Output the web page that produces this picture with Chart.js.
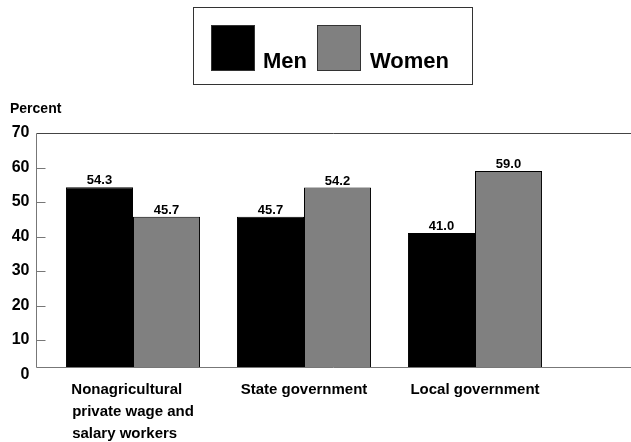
<!DOCTYPE html>
<html>
<head>
<meta charset="utf-8">
<script src="https://cdn.jsdelivr.net/npm/chart.js@4.4.1/dist/chart.umd.min.js"></script>
<style>
  html, body { margin: 0; padding: 0; background: #fff; }
  #wrap { width: 631px; height: 442px; }
</style>
</head>
<body>
<div id="wrap"><canvas id="unionChart"></canvas></div>
<script>
// Data
const categories = [
    ['Nonagricultural   ', 'private wage and', 'salary workers    '],
    'State government',
    'Local government'
];
const seriesNames = ['Men', 'Women'];
const menValues = [54.3, 45.7, 41.0];
const womenValues = [45.7, 54.2, 59.0];
const yTickValues = [0, 10, 20, 30, 40, 50, 60, 70];

const seriesColors = ['#000000', '#808080'];

Chart.defaults.font.family = "'Liberation Sans', Arial, sans-serif";
Chart.defaults.color = '#000';

// Frame, tick marks, "Percent" caption and the boxed legend
const framePlugin = {
    id: 'frameAndLegend',
    afterDraw(chart) {
        const ctx = chart.ctx;
        const area = chart.chartArea;
        const yScale = chart.scales.y;
        const left = 36.5;
        ctx.save();
        ctx.lineWidth = 1;

        // top line
        ctx.strokeStyle = '#444';
        ctx.beginPath();
        ctx.moveTo(left, Math.round(area.top) + 0.5);
        ctx.lineTo(chart.width, Math.round(area.top) + 0.5);
        ctx.stroke();

        // left axis, bottom axis and tick marks
        ctx.strokeStyle = '#777';
        ctx.beginPath();
        ctx.moveTo(left, Math.round(area.top) + 0.5);
        ctx.lineTo(left, Math.round(area.bottom) + 0.5);
        ctx.moveTo(left, Math.round(area.bottom) + 0.5);
        ctx.lineTo(chart.width, Math.round(area.bottom) + 0.5);
        yTickValues.forEach(v => {
            if (v <= 0 || v >= 70) return;
            const y = Math.round(yScale.getPixelForValue(v)) + 0.5;
            ctx.moveTo(left, y);
            ctx.lineTo(left + 9, y);
        });
        ctx.stroke();

        // axis caption
        ctx.fillStyle = '#000';
        ctx.font = "bold 14px 'Liberation Sans', Arial, sans-serif";
        ctx.textAlign = 'left';
        ctx.textBaseline = 'middle';
        ctx.fillText('Percent', 10, 109);

        // legend box
        ctx.strokeStyle = '#333';
        ctx.strokeRect(193.5, 7.5, 279, 77);
        const swatchX = [211, 317];
        const textX = [263, 370];
        ctx.font = "bold 22px 'Liberation Sans', Arial, sans-serif";
        ctx.textBaseline = 'alphabetic';
        chart.data.datasets.forEach((ds, i) => {
            ctx.fillStyle = ds.backgroundColor;
            ctx.fillRect(swatchX[i], 25, 44, 46);
            ctx.strokeStyle = '#333';
            ctx.strokeRect(swatchX[i] + 0.5, 25.5, 43, 45);
            ctx.fillStyle = '#000';
            ctx.fillText(ds.label, textX[i], 68);
        });
        ctx.restore();
    }
};

// Value labels above each bar
const valueLabelPlugin = {
    id: 'valueLabels',
    afterDatasetsDraw(chart) {
        const ctx = chart.ctx;
        ctx.save();
        ctx.font = "bold 13px 'Liberation Sans', Arial, sans-serif";
        ctx.fillStyle = '#000';
        ctx.textAlign = 'center';
        ctx.textBaseline = 'alphabetic';
        chart.data.datasets.forEach((ds, i) => {
            const meta = chart.getDatasetMeta(i);
            meta.data.forEach((bar, j) => {
                ctx.fillText(ds.data[j].toFixed(1), bar.x, bar.y - 3);
            });
        });
        ctx.restore();
    }
};

const ctx = document.getElementById('unionChart').getContext('2d');
new Chart(ctx, {
    type: 'bar',
    data: {
        labels: categories,
        datasets: [
            {
                label: seriesNames[0],
                data: menValues,
                backgroundColor: seriesColors[0],
                borderColor: '#000',
                borderWidth: 1
            },
            {
                label: seriesNames[1],
                data: womenValues,
                backgroundColor: seriesColors[1],
                borderColor: '#000',
                borderWidth: 1
            }
        ]
    },
    options: {
        responsive: true,
        maintainAspectRatio: false,
        animation: false,
        categoryPercentage: 0.784,
        barPercentage: 1.0,
        layout: {
            padding: { top: 133, right: 70.5, left: 0, bottom: 0 }
        },
        scales: {
            x: {
                grid: { display: false, drawTicks: false },
                border: { display: false },
                ticks: {
                    font: { size: 15, weight: 'bold', lineHeight: 1.45 },
                    color: '#000',
                    padding: 12,
                    maxRotation: 0,
                    autoSkip: false
                },
                afterFit: s => { s.height = 75; }
            },
            y: {
                min: 2.2,
                max: 70,
                afterBuildTicks: s => { s.ticks = yTickValues.map(v => ({ value: v })); },
                grid: { display: false, drawTicks: false },
                border: { display: false },
                ticks: {
                    font: { size: 16, weight: 'bold' },
                    color: '#000',
                    padding: 18,
                    autoSkip: false,
                    callback: v => v
                },
                afterFit: s => { s.width = 47.5; }
            }
        },
        plugins: {
            legend: { display: false },
            tooltip: { enabled: false }
        }
    },
    plugins: [valueLabelPlugin, framePlugin]
});
</script>
</body>
</html>
